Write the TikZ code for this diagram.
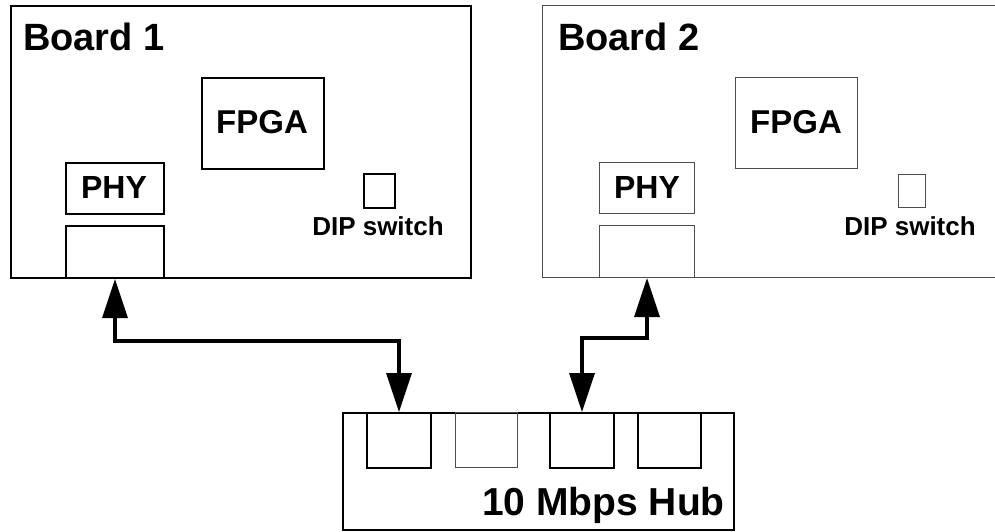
\documentclass[tikz,border=0pt]{standalone}
\usepackage{fontspec}
\setmainfont{Liberation Sans}
\usetikzlibrary{arrows.meta}
\begin{document}
\begin{tikzpicture}[x=1pt,y=-1pt,
  box/.style={draw, line width=2pt, inner sep=0pt, anchor=north west},
  thinbox/.style={draw=black!70, line width=1pt, inner sep=0pt, anchor=north west},
  lbl/.style={font={\bfseries\fontsize{#1}{#1}\selectfont}, inner sep=0pt},
  link/.style={line width=3.5pt, {Triangle[length=39pt,width=25pt]}-{Triangle[length=39pt,width=25pt]}}
]
\useasboundingbox (0,0) rectangle (995,531);
% Board 1
\node[box, minimum width=460.5pt, minimum height=272pt] (b1) at (9.5,5) {};
\node[box, minimum width=122pt, minimum height=91pt] (fpga1) at (201,77) {};
\node[box, minimum width=98pt, minimum height=51pt] (phy1) at (65,162) {};
\node[box, minimum width=98pt, minimum height=52pt] (con1) at (65,225) {};
\node[box, minimum width=31pt, minimum height=34pt] (dip1) at (363,173) {};
\node[lbl=38, anchor=base west] (t1) at (23,50) {Board 1};
\node[lbl=33, anchor=base] (tf1) at (262,133) {FPGA};
\node[lbl=32, anchor=base] (tp1) at (114,198) {PHY};
\node[lbl=26, anchor=base] (td1) at (378,235) {DIP switch};
% Board 2
\node[thinbox, minimum width=500pt, minimum height=272pt] (b2) at (542,5) {};
\node[thinbox, minimum width=122pt, minimum height=91pt] (fpga2) at (735,77) {};
\node[thinbox, minimum width=95pt, minimum height=51pt] (phy2) at (599,162) {};
\node[thinbox, minimum width=95pt, minimum height=52pt] (con2) at (599,225) {};
\node[thinbox, minimum width=27pt, minimum height=33pt] (dip2) at (898,174) {};
\node[lbl=38, anchor=base west] (t2) at (558,50) {Board 2};
\node[lbl=33, anchor=base] (tf2) at (796,133) {FPGA};
\node[lbl=32, anchor=base] (tp2) at (647,198) {PHY};
\node[lbl=26, anchor=base] (td2) at (910,235) {DIP switch};
% Hub
\node[box, minimum width=391pt, minimum height=117pt] (hub) at (342,412) {};
\node[box, minimum width=64pt, minimum height=55pt] (p1) at (366,412) {};
\node[thinbox, minimum width=62pt, minimum height=55pt] (p2) at (455,412) {};
\node[box, minimum width=64pt, minimum height=55pt] (p3) at (549,412) {};
\node[box, minimum width=63pt, minimum height=55pt] (p4) at (637,412) {};
\node[lbl=39, anchor=base east] (th) at (725,515) {10 Mbps Hub};
% Links
\coordinate (j1) at (0,341);
\coordinate (j2) at (0,338);
\draw[link] (con1.south) -- (con1.south |- j1) -| (p1.north);
\draw[link] (con2.south) -- (con2.south |- j2) -| (p3.north);
\end{tikzpicture}
\end{document}
